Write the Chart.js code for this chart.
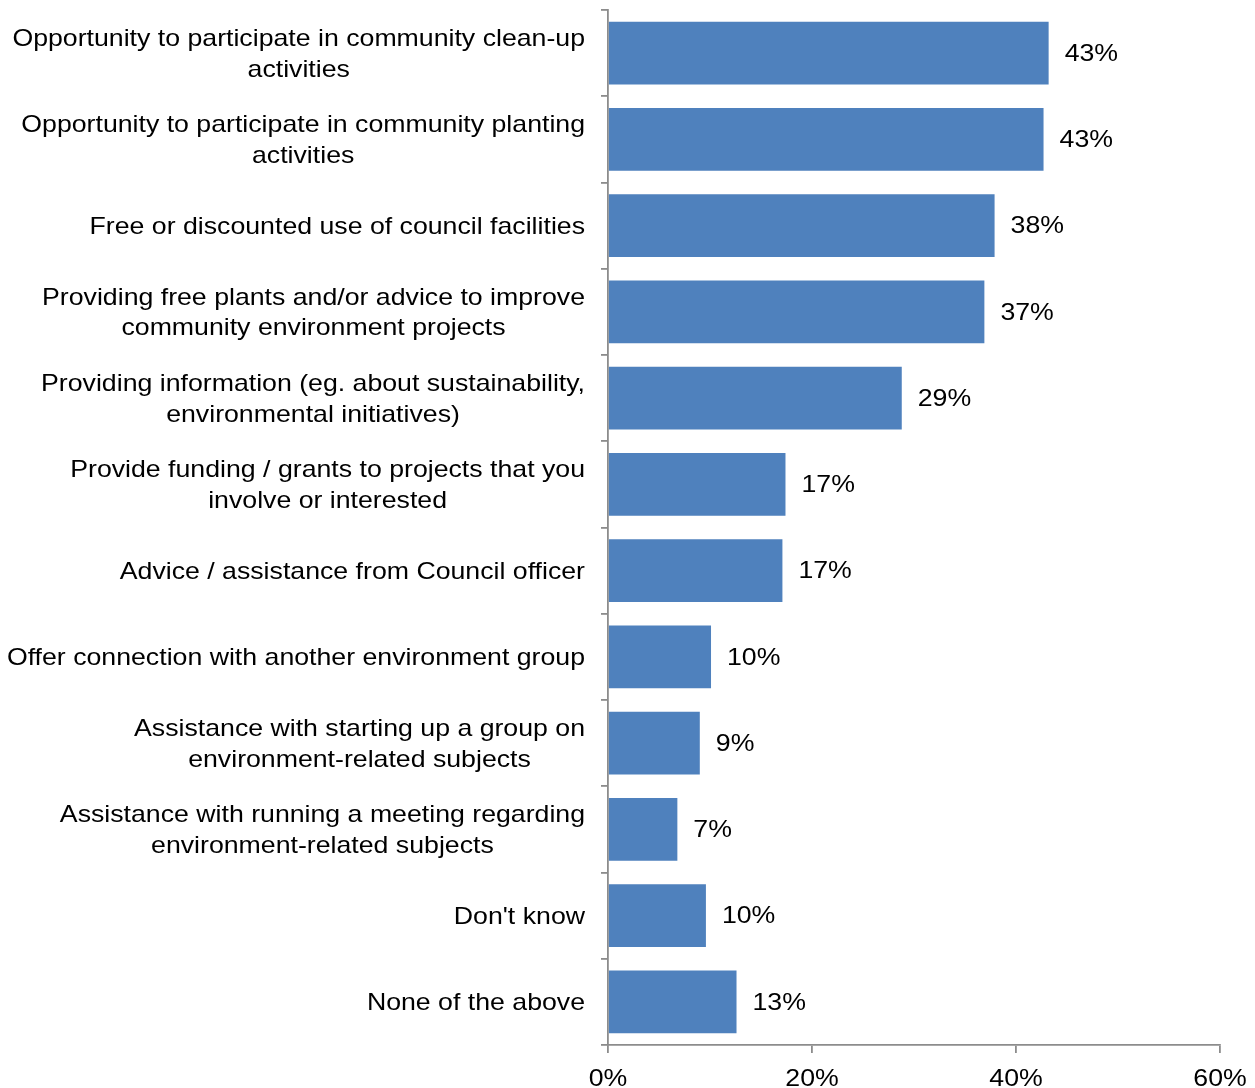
<!DOCTYPE html>
<html>
<head>
<meta charset="utf-8">
<script src="https://cdn.jsdelivr.net/npm/chart.js@4.4.1/dist/chart.umd.min.js"></script>
<style>
  html, body { margin: 0; padding: 0; background: #ffffff; }
  #wrap { width: 1255px; height: 1088px; position: relative; }
</style>
</head>
<body>
<div id="wrap"><canvas id="chart" width="1255" height="1088"></canvas></div>
<script>
// Survey options, each given as its wrapped lines
const categories = [
  ["Opportunity to participate in community clean-up", "activities"],
  ["Opportunity to participate in community planting", "activities"],
  ["Free or discounted use of council facilities"],
  ["Providing free plants and/or advice to improve", "community environment projects"],
  ["Providing information (eg. about sustainability,", "environmental initiatives)"],
  ["Provide funding / grants to projects that you", "involve or interested"],
  ["Advice / assistance from Council officer"],
  ["Offer connection with another environment group"],
  ["Assistance with starting up a group on", "environment-related subjects"],
  ["Assistance with running a meeting regarding", "environment-related subjects"],
  ["Don't know"],
  ["None of the above"]
];

// Share of respondents (%)
const shares = [43.2, 42.7, 37.9, 36.9, 28.8, 17.4, 17.1, 10.1, 9.0, 6.8, 9.6, 12.6];

// Value axis ticks (%)
const xTicks = [0, 20, 40, 60];

const FONT = "'Liberation Sans', Arial, sans-serif";
const TEXT_FONT = '24px ' + FONT;
const STRETCH = 1.112;        // slightly widened lettering
const AXIS_GREY = '#8c8c8c';

function drawText(ctx, text, x, y, align, baseline) {
  ctx.save();
  ctx.translate(x, y);
  ctx.scale(STRETCH, 1);
  ctx.textAlign = align;
  ctx.textBaseline = baseline;
  ctx.fillText(text, 0, 0);
  ctx.restore();
}

// Wrapped category names: right-aligned block, lines centred within it
const categoryLabels = {
  id: 'categoryLabels',
  afterDraw(chart) {
    const ctx = chart.ctx;
    const y = chart.scales.y;
    const rightEdge = chart.chartArea.left - 23;
    const lineH = 30.5;
    ctx.save();
    ctx.font = TEXT_FONT;
    ctx.fillStyle = '#000000';
    categories.forEach((lines, i) => {
      const cy = y.getPixelForValue(i) + 1.5;
      const widest = Math.max(...lines.map(l => ctx.measureText(l).width)) * STRETCH;
      const cx = rightEdge - widest / 2;
      const y0 = cy - (lines.length - 1) * lineH / 2;
      lines.forEach((line, k) => drawText(ctx, line, cx, y0 + k * lineH, 'center', 'middle'));
    });
    ctx.restore();
  }
};

// Percent tick labels under the value axis
const xTickLabels = {
  id: 'xTickLabels',
  afterDraw(chart) {
    const ctx = chart.ctx;
    const x = chart.scales.x;
    ctx.save();
    ctx.font = TEXT_FONT;
    ctx.fillStyle = '#000000';
    xTicks.forEach(v => drawText(ctx, v + '%', x.getPixelForValue(v), 1086, 'center', 'alphabetic'));
    ctx.restore();
  }
};

// Percentage labels just past each bar end
const valueLabels = {
  id: 'valueLabels',
  afterDatasetsDraw(chart) {
    const ctx = chart.ctx;
    const meta = chart.getDatasetMeta(0);
    ctx.save();
    ctx.font = TEXT_FONT;
    ctx.fillStyle = '#000000';
    meta.data.forEach((bar, i) => {
      drawText(ctx, Math.round(shares[i]) + '%', bar.x + 16, bar.y + 1, 'left', 'middle');
    });
    ctx.restore();
  }
};

new Chart(document.getElementById('chart'), {
  type: 'bar',
  data: {
    labels: categories.map(c => c.join(' ')),
    datasets: [{
      data: shares,
      backgroundColor: '#4F81BD',
      borderWidth: 0,
      categoryPercentage: 1.0,
      barPercentage: 0.73
    }]
  },
  options: {
    indexAxis: 'y',
    responsive: false,
    animation: false,
    events: [],
    layout: { padding: { top: 10, right: 35, bottom: 0, left: 0 } },
    plugins: { legend: { display: false }, tooltip: { enabled: false } },
    scales: {
      x: {
        min: 0,
        max: 60,
        afterBuildTicks(scale) { scale.ticks = xTicks.map(v => ({ value: v })); },
        afterFit(scale) { scale.height = 43; },
        ticks: { display: false },
        grid: {
          drawOnChartArea: false,
          drawTicks: true,
          tickLength: 8,
          color: AXIS_GREY,
          lineWidth: 1.8
        },
        border: { display: true, color: AXIS_GREY, width: 1.8 }
      },
      y: {
        afterFit(scale) { scale.width = 608; },
        ticks: { display: false },
        grid: {
          offset: true,
          drawOnChartArea: false,
          drawTicks: true,
          tickLength: 7,
          color: AXIS_GREY,
          lineWidth: 1.8
        },
        border: { display: true, color: AXIS_GREY, width: 1.8 }
      }
    }
  },
  plugins: [categoryLabels, valueLabels, xTickLabels]
});
</script>
</body>
</html>
